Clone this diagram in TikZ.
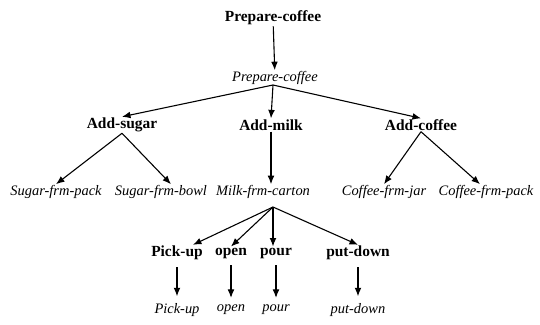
\documentclass[tikz,border=0pt]{standalone}
\usepackage{fontspec}
\setmainfont{Liberation Serif}
\usetikzlibrary{arrows.meta,positioning}

\begin{document}
\begin{tikzpicture}[x=1bp, y=-1bp,
    task/.style={font=\fontsize{15.5}{18}\selectfont\bfseries, inner sep=1pt},
    meth/.style={font=\fontsize{14.5}{17}\selectfont\itshape, inner sep=1pt},
    link/.style={-{Latex[length=3mm,width=2.4mm]}, line width=1.1pt}]
  \useasboundingbox (0,0) rectangle (540,324);
  % top task and its method
  \node[task] (prep) at (273,18) {Prepare-coffee};
  \node[meth] (prepm) at (275,78) {Prepare-coffee};
  \foreach \x/\name/\txt in {122/sugar/Add-sugar,271/milk/Add-milk,421/coffee/Add-coffee}{\node[task] (\name) at (\x,125) {\txt};}
  \foreach \x/\name/\txt in {56/spack/Sugar-frm-pack,161/sbowl/Sugar-frm-bowl,263/mcart/Milk-frm-carton,384/cjar/Coffee-frm-jar,486/cpack/Coffee-frm-pack}{\node[meth] (\name) at (\x,192) {\txt};}
  % subtasks of the carton method
  \foreach \x/\name/\txt in {177/pick/Pick-up,231/open/open,276/pour/pour,358/putd/put-down}{
    \node[task] (\name) at (\x,253) {\txt};
    \node[meth] (\name m) at (\x,310) {\txt};
    \draw[link, shorten <=6pt, shorten >=6pt] (\name) -- (\name m);
  }
  \coordinate (pfork) at (273,85);
  \coordinate (mfork) at (273,207);
  \draw[link] (prep) -- (prepm);
  \foreach \n in {sugar,milk,coffee} \draw[link] (pfork) -- (\n.north);
  \draw[link] (sugar.south) -- (spack.north);
  \draw[link] (sugar.south) -- ([xshift=10pt]sbowl.north);
  \draw[link] (milk) -- (milk |- mcart.north);
  \draw[link] (coffee.south) -- (cjar.north);
  \draw[link] (coffee.south) -- ([xshift=-6pt]cpack.north);
  \draw[link] (mfork) -- ([xshift=16pt]pick.north);
  \draw[link] (mfork) -- (open.north);
  \draw[link] (mfork) -- (pour.north -| mfork);
  \draw[link] (mfork) -- (putd.north);
\end{tikzpicture}
\end{document}
